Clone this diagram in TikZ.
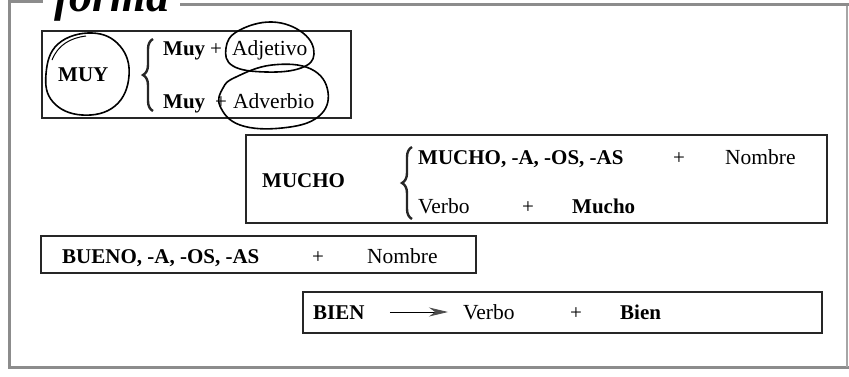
\documentclass[tikz,border=0pt]{standalone}
\usepackage{fontspec}
\setmainfont{Liberation Serif}
\usetikzlibrary{decorations.pathreplacing,arrows.meta}
\tikzset{
  frameline/.style={draw=black!45, line width=3pt},
  boxline/.style={draw=black!85, line width=1.2pt},
  txt/.style={inner sep=0pt, anchor=base west, font=\fontsize{21.5}{23}\selectfont},
  btxt/.style={txt, font=\fontsize{21}{23}\selectfont\bfseries},
  plus/.style={inner sep=0pt, anchor=base, font=\fontsize{21}{23}\selectfont},
  ring/.style={draw=black, line width=1.6pt},
  bracestyle/.style={decorate, decoration={brace, amplitude=10pt}, line width=2.4pt, draw=black!85},
  pointer/.style={line width=0.8pt, -{Stealth[length=19pt, width=9pt, color=gray!60!black, fill=gray!60!black]}}
}
\begin{document}
\begin{tikzpicture}[x=1pt, y=-1pt]
\useasboundingbox (0,0) rectangle (849,376);
\clip (0,0) rectangle (849,376);
% outer frame
\draw[frameline] (9,0) -- (9,367) -- (849,367);
\draw[frameline, line width=1.5pt, draw=black!35] (847,5) -- (847,367);
\draw[frameline] (180,4) -- (849,4);
\draw[frameline] (9,1) -- (43,1);
\node[inner sep=0pt, anchor=base west, font=\fontsize{46}{46}\selectfont\bfseries\itshape] (title) at (54,11) {forma};

% MUY box
\draw[boxline] (42,31) rectangle (351,118);
\node[btxt] (muy) at (58,81) {MUY};
\draw[bracestyle] (153,111) -- (153,39);
\node[btxt] (muy1) at (163,55) {Muy};
\node[plus] (p1) at (216,55) {+};
\node[txt] (adj) at (232,55) {Adjetivo};
\node[btxt] (muy2) at (163,108) {Muy};
\node[plus] (p2) at (221,108) {+};
\node[txt] (adv) at (233,108) {Adverbio};
% hand-drawn rings
\draw[ring] plot[smooth cycle, tension=0.7] coordinates {(58,44) (92,33) (120,46) (129,76) (115,106) (82,115) (53,102) (46,74)};
\draw[ring, line width=1pt] (52,60) .. controls (58,45) and (70,38) .. (86,36);
\draw[ring] plot[smooth cycle, tension=0.7] coordinates {(238,31) (272,22) (303,33) (314,54) (301,68) (266,72) (233,66) (226,48)};
\draw[ring] plot[smooth cycle, tension=0.7] coordinates {(236,77) (272,65) (311,69) (328,92) (318,117) (282,128) (240,125) (220,106) (223,88)};

% MUCHO box
\draw[boxline] (246,135) rectangle (827,223);
\node[btxt] (mucho) at (262,187) {MUCHO};
\draw[bracestyle] (412,219) -- (412,147);
\node[btxt] (m1) at (418,164) {MUCHO, -A, -OS, -AS};
\node[plus] (p3) at (679,164) {+};
\node[txt] (nom1) at (725,164) {Nombre};
\node[txt] (verbo1) at (418,213) {Verbo};
\node[plus] (p4) at (528,213) {+};
\node[btxt] (mucho2) at (572,213) {Mucho};

% BUENO box
\draw[boxline] (41,236) rectangle (476,273);
\node[btxt] (bueno) at (62,263) {BUENO, -A, -OS, -AS};
\node[plus] (p5) at (318,263) {+};
\node[txt] (nom2) at (367,263) {Nombre};

% BIEN box
\draw[boxline] (303,292) rectangle (822,333);
\node[btxt, text height=14pt, text depth=0pt] (bien) at (313,319) {BIEN};
\node[txt, text height=14pt, text depth=0pt] (verbo2) at (463,319) {Verbo};
\node[plus] (p6) at (576,319) {+};
\node[btxt] (bien2) at (620,319) {Bien};
\draw[pointer, shorten <=25pt, shorten >=15pt] (bien.east) -- (verbo2.west);
\end{tikzpicture}
\end{document}
